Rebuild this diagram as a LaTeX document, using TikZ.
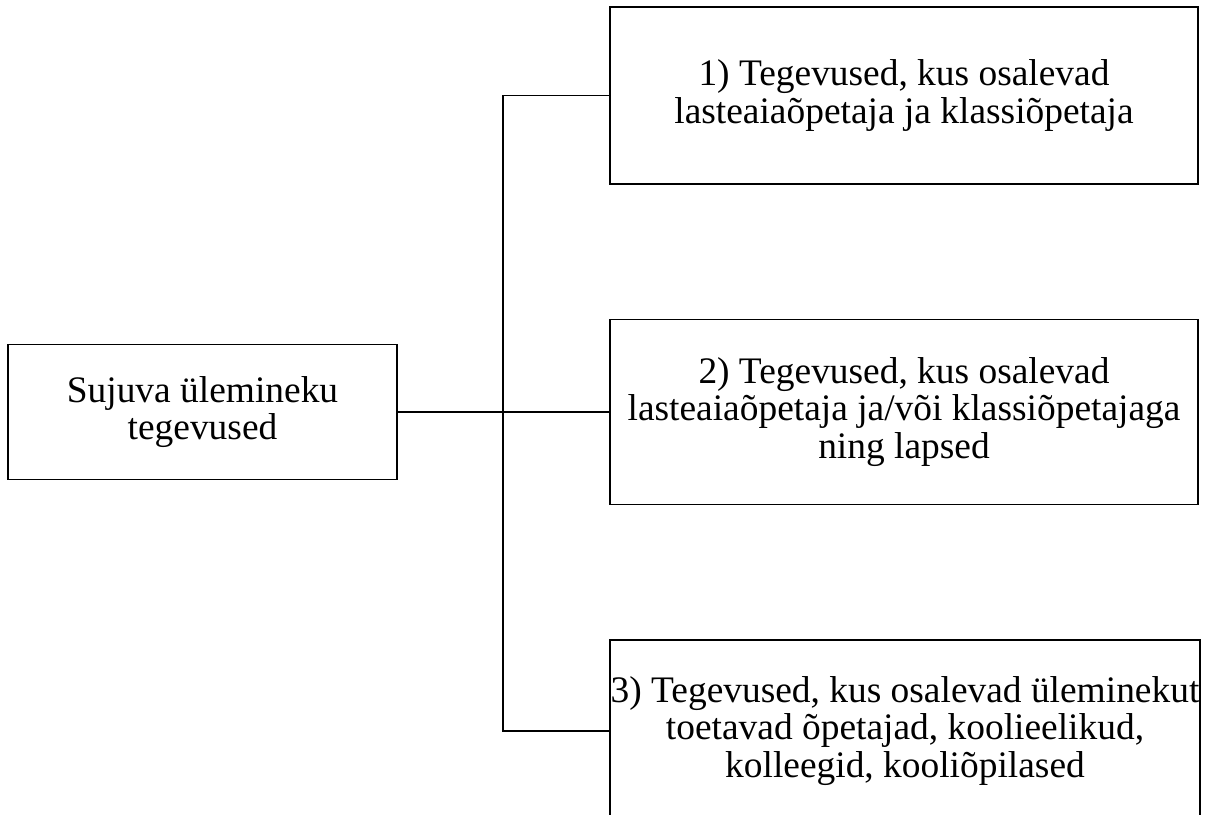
\documentclass[tikz,border=0pt]{standalone}
\usepackage{fontspec}
\setmainfont{Liberation Serif}

\begin{document}
\begin{tikzpicture}[x=0.02cm,y=-0.02cm,
	box/.style={draw,line width=1.1pt,align=center,inner sep=0pt,
		font=\fontsize{21.3}{21.3}\selectfont},
	link/.style={line width=0.6pt}]

	\useasboundingbox (0,0) rectangle (1228,815);

	\node[box,minimum width=7.78cm,minimum height=2.7cm] (start) at (202.5,412) {Sujuva ülemineku\\tegevused};
	\node[box,minimum width=11.76cm,minimum height=3.54cm] (first) at (904,95.5) {1) Tegevused, kus osalevad\\lasteaiaõpetaja ja klassiõpetaja};
	\node[box,minimum width=11.76cm,minimum height=3.7cm] (second) at (904,412) {2) Tegevused, kus osalevad\\lasteaiaõpetaja ja/või klassiõpetajaga\\ning lapsed};
	\node[box,minimum width=11.8cm,minimum height=3.64cm] (third) at (905,731) {3) Tegevused, kus osalevad üleminekut\\toetavad õpetajad, koolieelikud,\\kolleegid, kooliõpilased};

	\coordinate (fork) at (503,412);
	\draw[link] (start.east) -- (second.west);
	\draw[link] (fork) |- (first.west);
	\draw[link] (fork) |- (third.west);

\end{tikzpicture}
\end{document}
